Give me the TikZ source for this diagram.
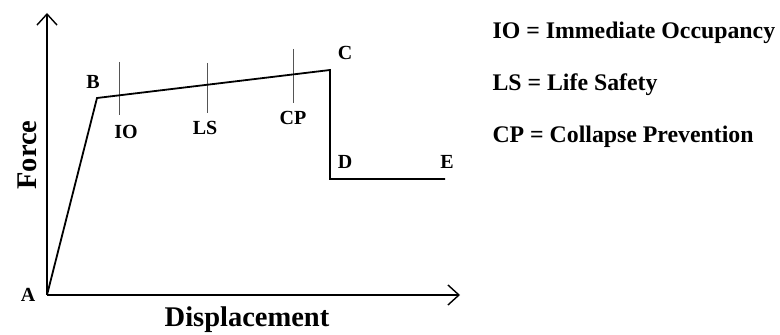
\documentclass[tikz,border=0pt]{standalone}
\usepackage{fontspec}
\setmainfont{Liberation Serif}
\usetikzlibrary{arrows.meta}
\definecolor{tickgrey}{HTML}{555555}

\begin{document}
\begin{tikzpicture}[x=1pt,y=1pt,
      axis/.style={line width=1.6pt,-{Straight Barb[length=11pt,width=20pt,line width=1.4pt]}},
      curve/.style={line width=1.8pt,line join=miter},
      lvl/.style={draw=tickgrey,line width=0.7pt},
      pt/.style={font=\fontsize{20}{20}\selectfont\bfseries},
      axlbl/.style={font=\fontsize{28.5}{28.5}\selectfont\bfseries},
      leg/.style={font=\fontsize{23.8}{23.8}\selectfont\bfseries,anchor=west}]
    \useasboundingbox (0,0) rectangle (780,335);
    % curve points
    \coordinate (A) at (47,40);
    \coordinate (B) at (97,237);
    \coordinate (C) at (330,265);
    \coordinate (D) at (330,156);
    \coordinate (E) at (445,156);
    \coordinate (ytop) at (47,322);
    \coordinate (xend) at (460,40);
    % axes
    \draw[axis] (A) -- (ytop);
    \draw[axis] (A) -- (xend);
    \node[axlbl,rotate=90] (force) at (27,180) {Force};
    \node[axlbl] (disp) at (247,15) {Displacement};
    % performance levels
    \coordinate (io1) at (119,273); \coordinate (io2) at (119,220);
    \coordinate (ls1) at (207,272); \coordinate (ls2) at (207,222);
    \coordinate (cp1) at (293,286); \coordinate (cp2) at (293,232);
    \draw[lvl] (io1) -- (io2);
    \draw[lvl] (ls1) -- (ls2);
    \draw[lvl] (cp1) -- (cp2);
    \draw[curve] (A) -- (B) -- (C) -- (D) -- (E);
    \node[pt] (lA) at (28,40) {A};
    \node[pt] (lB) at (93,253) {B};
    \node[pt] (lC) at (345,282) {C};
    \node[pt] (lD) at (345,173) {D};
    \node[pt] (lE) at (447,173) {E};
    \node[pt] (lIO) at (126,203) {IO};
    \node[pt] (lLS) at (205,207) {LS};
    \node[pt] (lCP) at (293,217) {CP};
    % legend
    \node[leg] (gIO) at (489,302) {IO = Immediate Occupancy};
    \node[leg] (gLS) at (489,250) {LS = Life Safety};
    \node[leg] (gCP) at (489,198) {CP = Collapse Prevention};
  \end{tikzpicture}
\end{document}
